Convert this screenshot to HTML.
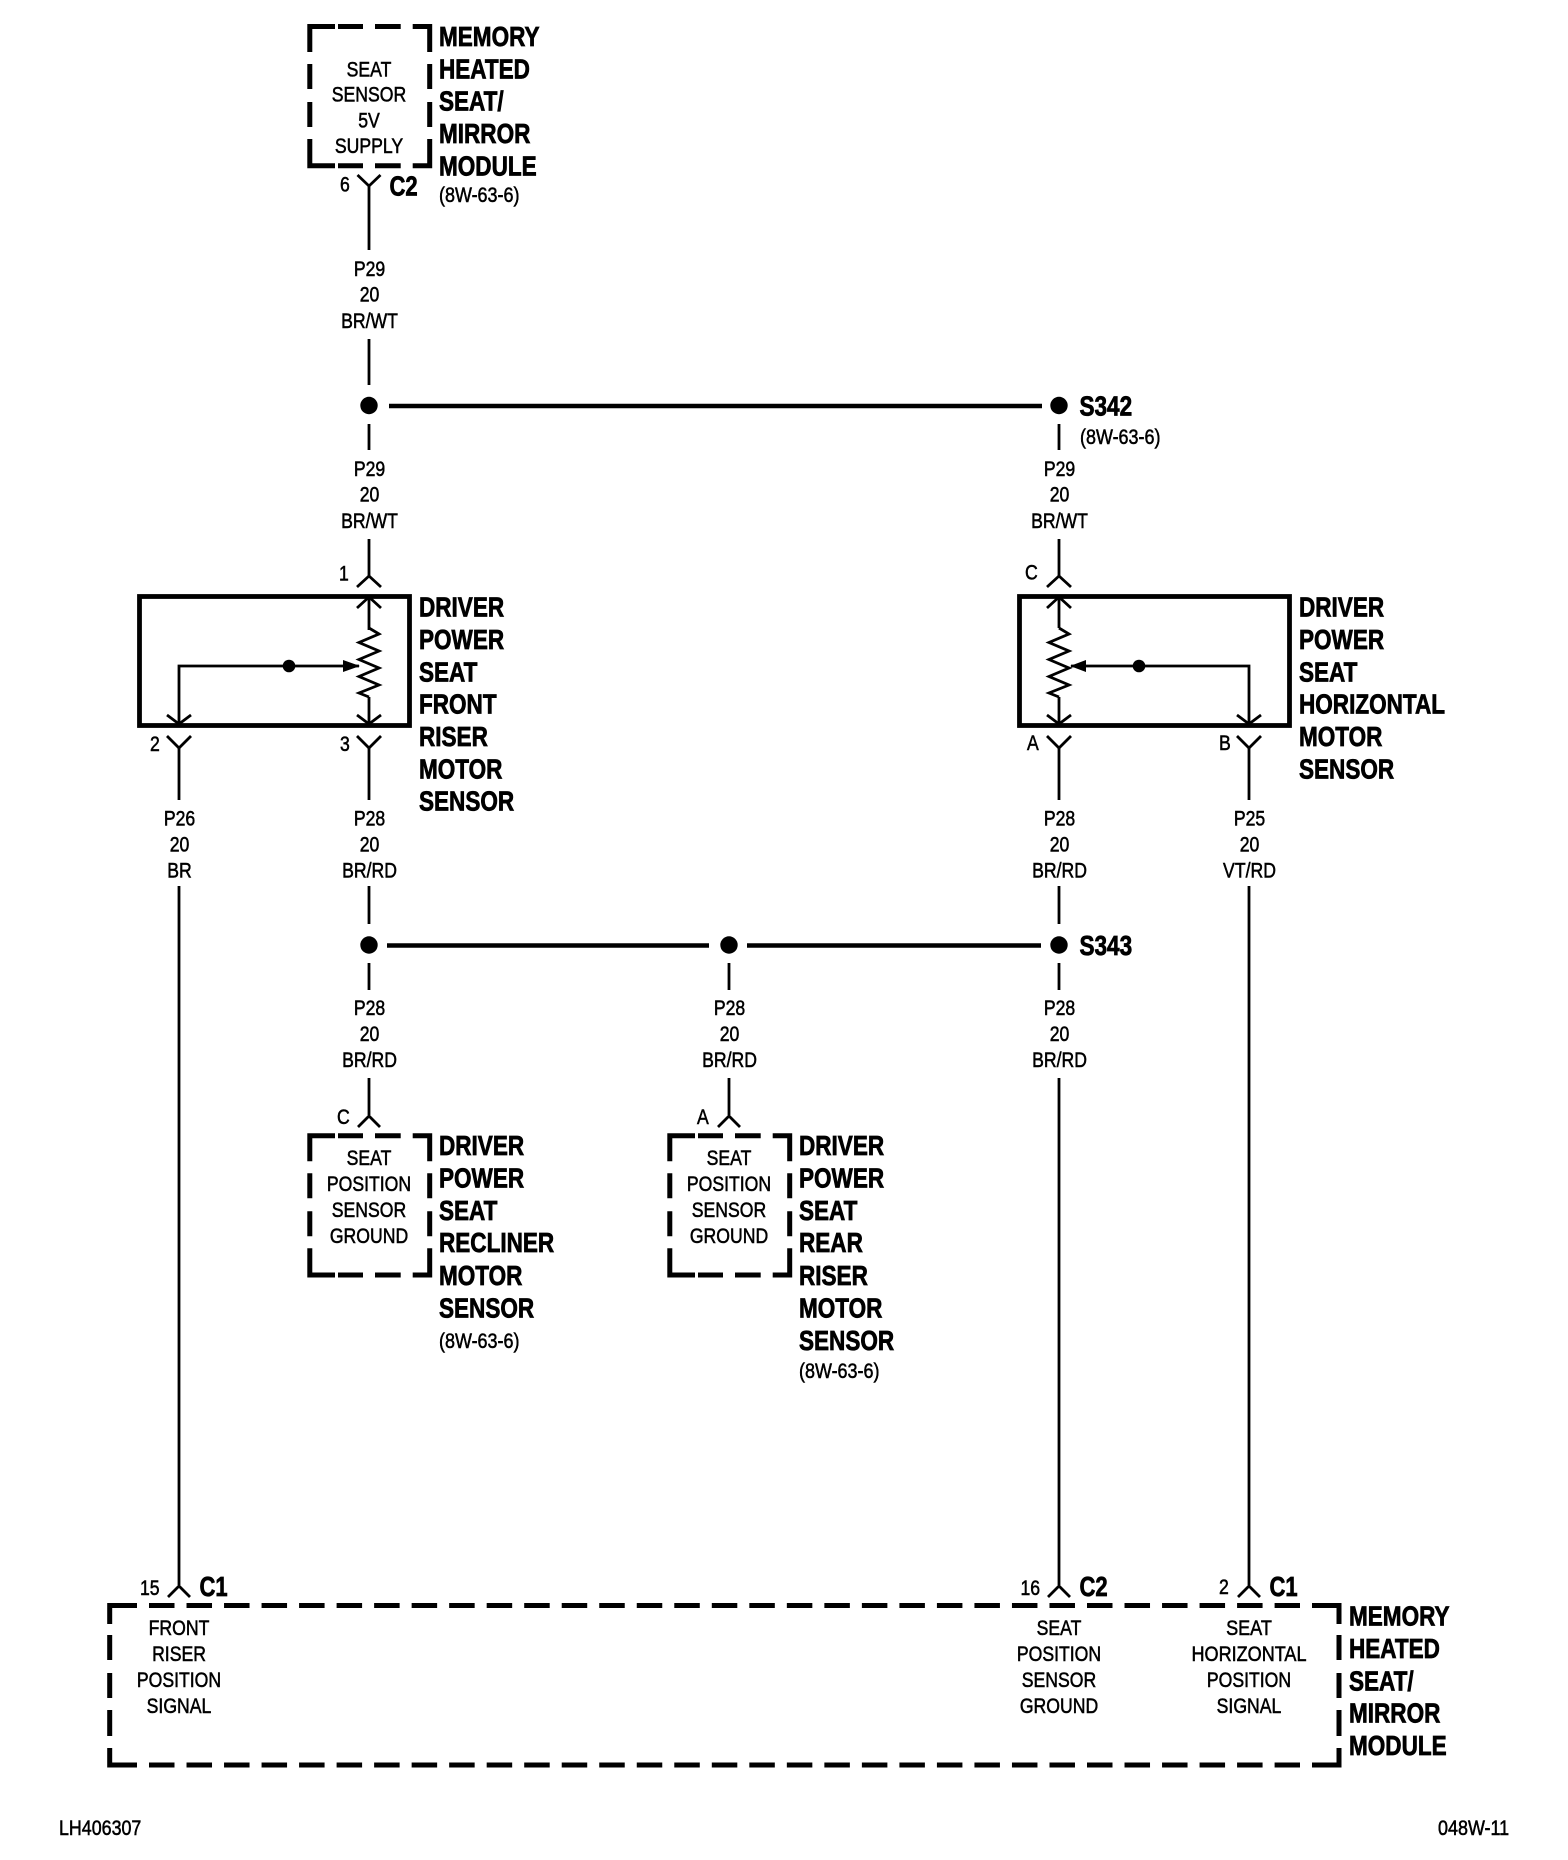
<!DOCTYPE html>
<html><head><meta charset="utf-8"><style>
html,body{margin:0;padding:0;background:#fff}
svg{display:block}
text{font-family:"Liberation Sans",sans-serif;fill:#000}
.b{font-size:27.5px;font-weight:bold;stroke:#000;stroke-width:.75}
.r{font-size:21.5px;stroke:#000;stroke-width:.55}
.m{text-anchor:middle}
.w{fill:none;stroke:#000;stroke-width:2.8}
.h{fill:none;stroke:#000;stroke-width:4.6}
.d{fill:none;stroke:#000;stroke-width:5}
</style></head><body>
<svg width="1568" height="1860" viewBox="0 0 1568 1860" xmlns="http://www.w3.org/2000/svg">
<rect width="1568" height="1860" fill="#fff"/>
<defs>
<g id="dbox">
<path class="d" d="M335 26.5H309.8V52M309.8 64V89M309.8 102V127M309.8 139V165.7H335M338 26.5H363M375 26.5H400.7M412.7 26.5H429.7V52M429.7 64V89M429.7 102V127M429.7 139V165.7H412.7M338 165.7H363M375 165.7H400.7"/>
</g>
</defs>

<!-- wires -->
<path class="w" d="M369 185V250M369 339V385M369 424V450M369 539V577M369 598V630M369 697V723M369 747V800M369 886V924M369 963V990M369 1078V1115M179 747V800M179 886V1585M729 963V990M729 1078V1115M1059 424V450M1059 539V577M1059 598V628M1059 697V723M1059 747V800M1059 886V924M1059 963V990M1059 1078V1585M1249 747V800M1249 886V1585"/>
<path class="h" d="M389 406H1042M387 945.5H709M747 945.5H1041"/>
<g fill="#000">
<circle cx="369" cy="405.5" r="8.7"/><circle cx="1059" cy="405.5" r="8.7"/>
<circle cx="369" cy="945" r="8.7"/><circle cx="729" cy="945" r="8.7"/><circle cx="1059" cy="945" r="8.7"/>
<circle cx="289" cy="666" r="6.3"/><circle cx="1139" cy="666" r="6.3"/>
<path d="M360 666L343 660V672Z"/><path d="M1070 666L1086 660V672Z"/>
</g>

<!-- connector forks -->
<path class="w" d="M357.5 175L369 186L380.5 175"/>
<path class="w" d="M357 587L369 576L381 587M1047 587L1059 576L1071 587"/>
<path class="w" d="M357 608L369 597L381 608M1047 608L1059 597L1071 608"/>
<path class="w" d="M357 715L369 724L381 715M167 715L179 724L191 715M1047 715L1059 724L1071 715M1237 715L1249 724L1261 715"/>
<path class="w" d="M357 736L369 748L381 736M167 736L179 748L191 736M1047 736L1059 748L1071 736M1237 736L1249 748L1261 736"/>
<path class="w" d="M358 1127L369 1116L380 1127M718 1127L729 1116L740 1127"/>
<path class="w" d="M168 1597L179 1586L190 1597M1048 1597L1059 1586L1070 1597M1238 1597L1249 1586L1260 1597"/>

<!-- sensor boxes -->
<rect x="139.5" y="596.5" width="270" height="129" fill="none" stroke="#000" stroke-width="4.8"/>
<rect x="1019.5" y="596.5" width="270" height="129" fill="none" stroke="#000" stroke-width="4.8"/>
<path class="w" d="M179 723V666H359M1249 723V666H1071"/>
<path class="w" d="M369 628L379 634L359 642.5L379 651L359 659.5L379 668L359 676.5L379 685L359 693L369 697"/>
<path class="w" d="M1059 628L1069 634L1049 642.5L1069 651L1049 659.5L1069 668L1049 676.5L1069 685L1049 693L1059 697"/>

<!-- dashed boxes -->
<use href="#dbox"/>
<use href="#dbox" transform="translate(0 1109.3)"/>
<use href="#dbox" transform="translate(360 1109.3)"/>

<!-- module box -->
<path class="d" d="M137 1605.5H109.7V1624M109.7 1635V1660M109.7 1673V1698M109.7 1710V1736M109.7 1748V1765H137M1312 1605.5H1339V1624M1339 1635V1660M1339 1673V1698M1339 1710V1736M1339 1748V1765H1312"/>
<path class="d" d="M149 1605.5H1300M149 1765H1300" stroke-dasharray="25.5 12.02"/>

<!-- bold labels -->
<g class="b">
<text transform="translate(439 46) scale(.82 1)">MEMORY</text>
<text transform="translate(439 78.3) scale(.82 1)">HEATED</text>
<text transform="translate(439 110.6) scale(.82 1)">SEAT/</text>
<text transform="translate(439 143) scale(.82 1)">MIRROR</text>
<text transform="translate(439 175.5) scale(.82 1)">MODULE</text>
<text transform="translate(389.5 195.5) scale(.8 1)">C2</text>
<text transform="translate(1079.5 415.7) scale(.82 1)">S342</text>
<text transform="translate(1079.5 955) scale(.82 1)">S343</text>

<text transform="translate(419 616.7) scale(.82 1)">DRIVER</text>
<text transform="translate(419 649) scale(.82 1)">POWER</text>
<text transform="translate(419 681.3) scale(.82 1)">SEAT</text>
<text transform="translate(419 713.6) scale(.82 1)">FRONT</text>
<text transform="translate(419 746) scale(.82 1)">RISER</text>
<text transform="translate(419 778.3) scale(.82 1)">MOTOR</text>
<text transform="translate(419 810.6) scale(.82 1)">SENSOR</text>

<text transform="translate(1299 616.7) scale(.82 1)">DRIVER</text>
<text transform="translate(1299 649) scale(.82 1)">POWER</text>
<text transform="translate(1299 681.3) scale(.82 1)">SEAT</text>
<text transform="translate(1299 713.6) scale(.82 1)">HORIZONTAL</text>
<text transform="translate(1299 746) scale(.82 1)">MOTOR</text>
<text transform="translate(1299 778.3) scale(.82 1)">SENSOR</text>

<text transform="translate(439 1155) scale(.82 1)">DRIVER</text>
<text transform="translate(439 1187.4) scale(.82 1)">POWER</text>
<text transform="translate(439 1219.8) scale(.82 1)">SEAT</text>
<text transform="translate(439 1252.2) scale(.82 1)">RECLINER</text>
<text transform="translate(439 1285) scale(.82 1)">MOTOR</text>
<text transform="translate(439 1317.5) scale(.82 1)">SENSOR</text>

<text transform="translate(799 1155) scale(.82 1)">DRIVER</text>
<text transform="translate(799 1187.4) scale(.82 1)">POWER</text>
<text transform="translate(799 1219.8) scale(.82 1)">SEAT</text>
<text transform="translate(799 1252.2) scale(.82 1)">REAR</text>
<text transform="translate(799 1285) scale(.82 1)">RISER</text>
<text transform="translate(799 1317.5) scale(.82 1)">MOTOR</text>
<text transform="translate(799 1350) scale(.82 1)">SENSOR</text>

<text transform="translate(1349 1625.5) scale(.82 1)">MEMORY</text>
<text transform="translate(1349 1658) scale(.82 1)">HEATED</text>
<text transform="translate(1349 1690.5) scale(.82 1)">SEAT/</text>
<text transform="translate(1349 1722.5) scale(.82 1)">MIRROR</text>
<text transform="translate(1349 1755) scale(.82 1)">MODULE</text>

<text transform="translate(199.5 1596) scale(.8 1)">C1</text>
<text transform="translate(1079.5 1596) scale(.8 1)">C2</text>
<text transform="translate(1269.5 1596) scale(.8 1)">C1</text>
</g>

<!-- regular labels -->
<g class="r">
<g class="m">
<text transform="translate(369 76.7) scale(.82 1)">SEAT</text>
<text transform="translate(369 101.7) scale(.82 1)">SENSOR</text>
<text transform="translate(369 127.3) scale(.82 1)">5V</text>
<text transform="translate(369 153) scale(.82 1)">SUPPLY</text>

<text transform="translate(369.5 276) scale(.82 1)">P29</text>
<text transform="translate(369.5 301.5) scale(.82 1)">20</text>
<text transform="translate(369.5 328) scale(.82 1)">BR/WT</text>
<text transform="translate(369.5 476) scale(.82 1)">P29</text>
<text transform="translate(369.5 501.7) scale(.82 1)">20</text>
<text transform="translate(369.5 528) scale(.82 1)">BR/WT</text>
<text transform="translate(1059.5 476) scale(.82 1)">P29</text>
<text transform="translate(1059.5 501.7) scale(.82 1)">20</text>
<text transform="translate(1059.5 528) scale(.82 1)">BR/WT</text>

<text transform="translate(179.5 825.5) scale(.82 1)">P26</text>
<text transform="translate(179.5 851.5) scale(.82 1)">20</text>
<text transform="translate(179.5 877.5) scale(.82 1)">BR</text>
<text transform="translate(369.5 825.5) scale(.82 1)">P28</text>
<text transform="translate(369.5 851.5) scale(.82 1)">20</text>
<text transform="translate(369.5 877.5) scale(.82 1)">BR/RD</text>
<text transform="translate(1059.5 825.5) scale(.82 1)">P28</text>
<text transform="translate(1059.5 851.5) scale(.82 1)">20</text>
<text transform="translate(1059.5 877.5) scale(.82 1)">BR/RD</text>
<text transform="translate(1249.5 825.5) scale(.82 1)">P25</text>
<text transform="translate(1249.5 851.5) scale(.82 1)">20</text>
<text transform="translate(1249.5 877.5) scale(.82 1)">VT/RD</text>

<text transform="translate(369.5 1015) scale(.82 1)">P28</text>
<text transform="translate(369.5 1041) scale(.82 1)">20</text>
<text transform="translate(369.5 1067) scale(.82 1)">BR/RD</text>
<text transform="translate(729.5 1015) scale(.82 1)">P28</text>
<text transform="translate(729.5 1041) scale(.82 1)">20</text>
<text transform="translate(729.5 1067) scale(.82 1)">BR/RD</text>
<text transform="translate(1059.5 1015) scale(.82 1)">P28</text>
<text transform="translate(1059.5 1041) scale(.82 1)">20</text>
<text transform="translate(1059.5 1067) scale(.82 1)">BR/RD</text>

<text transform="translate(369 1165) scale(.82 1)">SEAT</text>
<text transform="translate(369 1191) scale(.82 1)">POSITION</text>
<text transform="translate(369 1217) scale(.82 1)">SENSOR</text>
<text transform="translate(369 1243) scale(.82 1)">GROUND</text>
<text transform="translate(729 1165) scale(.82 1)">SEAT</text>
<text transform="translate(729 1191) scale(.82 1)">POSITION</text>
<text transform="translate(729 1217) scale(.82 1)">SENSOR</text>
<text transform="translate(729 1243) scale(.82 1)">GROUND</text>

<text transform="translate(179 1635) scale(.82 1)">FRONT</text>
<text transform="translate(179 1661) scale(.82 1)">RISER</text>
<text transform="translate(179 1687) scale(.82 1)">POSITION</text>
<text transform="translate(179 1713) scale(.82 1)">SIGNAL</text>
<text transform="translate(1059 1635) scale(.82 1)">SEAT</text>
<text transform="translate(1059 1661) scale(.82 1)">POSITION</text>
<text transform="translate(1059 1687) scale(.82 1)">SENSOR</text>
<text transform="translate(1059 1713) scale(.82 1)">GROUND</text>
<text transform="translate(1249 1635) scale(.84 1)">SEAT</text>
<text transform="translate(1249 1661) scale(.84 1)">HORIZONTAL</text>
<text transform="translate(1249 1687) scale(.82 1)">POSITION</text>
<text transform="translate(1249 1713) scale(.82 1)">SIGNAL</text>
</g>

<text transform="translate(340 191.5) scale(.82 1)">6</text>
<text transform="translate(339 580.5) scale(.82 1)">1</text>
<text transform="translate(1025 579.5) scale(.82 1)">C</text>
<text transform="translate(150 751) scale(.82 1)">2</text>
<text transform="translate(340 751) scale(.82 1)">3</text>
<text transform="translate(1027 750) scale(.82 1)">A</text>
<text transform="translate(1219 750) scale(.82 1)">B</text>
<text transform="translate(337 1124) scale(.82 1)">C</text>
<text transform="translate(697 1124) scale(.82 1)">A</text>
<text transform="translate(140 1595) scale(.82 1)">15</text>
<text transform="translate(1020.5 1595) scale(.82 1)">16</text>
<text transform="translate(1219 1594) scale(.82 1)">2</text>

<text transform="translate(439 202) scale(.835 1)">(8W-63-6)</text>
<text transform="translate(1080 444) scale(.835 1)">(8W-63-6)</text>
<text transform="translate(439 1348) scale(.835 1)">(8W-63-6)</text>
<text transform="translate(799 1378) scale(.835 1)">(8W-63-6)</text>

<text transform="translate(59 1835) scale(.83 1)">LH406307</text>
<text transform="translate(1438 1835) scale(.835 1)">048W-11</text>
</g>
</svg>
</body></html>
